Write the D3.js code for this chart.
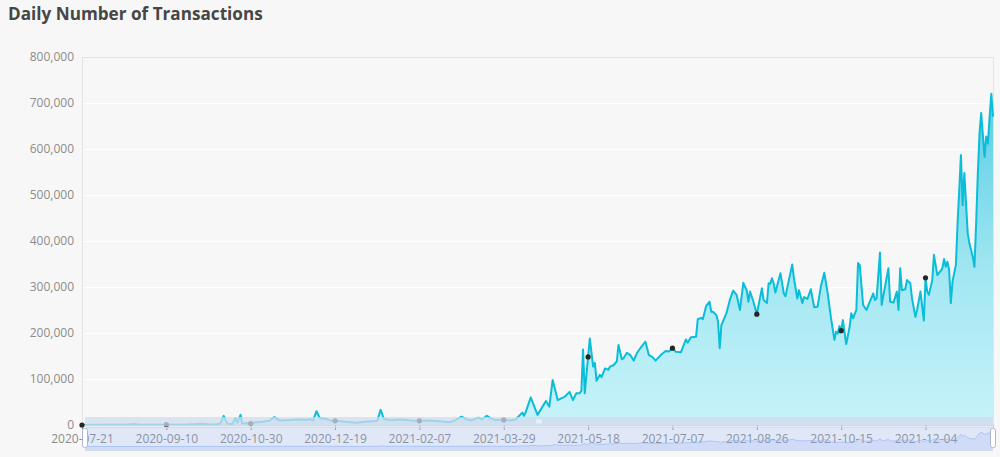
<!DOCTYPE html>
<html><head><meta charset="utf-8">
<script src="https://cdn.jsdelivr.net/npm/d3@7"></script>
<style>
html,body{margin:0;padding:0;background:#f7f7f7;}
svg{display:block;font-family:"Open Sans",sans-serif;}
</style>
</head><body>
<svg id="chart" width="1000" height="457"></svg>
<script>
const chartTitle = "Daily Number of Transactions";
const totalDays = 540; // day index of last point (2020-07-21 = day 0)
const tickDays = [0, 50, 100, 150, 200, 250, 300, 350, 400, 450, 500];
const tickLabels = ["2020-07-21", "2020-09-10", "2020-10-30", "2020-12-19", "2021-02-07", "2021-03-29",
  "2021-05-18", "2021-07-07", "2021-08-26", "2021-10-15", "2021-12-04"];
const yTicks = [0, 100000, 200000, 300000, 400000, 500000, 600000, 700000, 800000];

const days = [0,10,25,31,34,45,50,60,72,76,80,82,84,86,89,91,92,94,95,97,100,103,107,111,114,117,123,129,133,135,137,139,141,145,147,150,156,163,168,172,175,177,179,183,189,195,200,205,212,218,221,225,228,231,235,237,240,242,245,250,254,257,261,262,263,266,270,275,277,279,282,284,286,289,291,293,295,296,297,298,300,301,303,304,305,307,308,310,312,313,315,317,318,320,321,323,325,327,329,332,334,336,338,340,343,346,348,350,352,355,358,359,361,364,365,367,368,370,372,373,374,376,377,378,379,382,384,386,388,390,392,394,395,396,398,400,403,404,406,407,408,409,410,411,414,416,417,419,421,422,424,425,427,428,430,432,434,436,438,440,442,444,446,447,448,449,450,451,453,455,456,457,459,460,461,463,465,467,469,470,471,473,474,476,478,479,481,483,484,485,486,488,489,491,492,494,495,497,499,500,501,502,504,505,507,509,510,511,512,513,514,515,516,518,519,521,522,523,525,526,528,529,530,531,532,533,535,536,537,538,539,540];

const values = [0,300,500,2000,500,600,800,700,2500,1000,1500,3000,20000,3000,1500,15000,5000,22000,3000,4000,3000,6000,7000,9000,17000,10000,11000,12000,11000,13000,10000,30000,15000,13000,10000,9000,7000,5000,7000,8000,9000,33000,13000,11000,12000,10000,9000,10000,8000,6000,10000,18000,12000,10000,16000,12000,20000,15000,11000,11000,10000,12000,27000,20000,28000,60000,22000,52000,40000,98000,54000,58000,61000,72000,54000,69000,69000,74000,164000,69000,148000,188000,127000,135000,96000,109000,104000,123000,120000,127000,130000,138000,174000,143000,145000,157000,152000,140000,157000,172000,181000,152000,148000,140000,152000,161000,160000,167000,159000,158000,186000,179000,191000,192000,230000,233000,230000,259000,268000,246000,246000,239000,225000,167000,217000,243000,272000,292000,283000,250000,309000,293000,268000,290000,268000,241000,297000,272000,265000,308000,307000,319000,308000,288000,330000,286000,280000,315000,349000,319000,275000,293000,265000,278000,274000,295000,256000,257000,302000,331000,286000,232000,185000,203000,199000,215000,205000,228000,176000,213000,243000,232000,250000,352000,348000,261000,250000,268000,286000,272000,275000,375000,261000,301000,341000,268000,266000,290000,250000,341000,293000,295000,315000,308000,275000,235000,250000,290000,227000,320000,290000,283000,315000,370000,326000,335000,341000,361000,344000,355000,337000,265000,312000,348000,438000,587000,478000,548000,417000,395000,366000,344000,438000,547000,634000,678000,583000,627000,612000,670000,720000,670000];

const data = days.map((d, i) => ({day: d, value: values[i]}));

const svg = d3.select("#chart");
const W = 1000, H = 457;
const plot = {left: 82, right: 993, top: 57, bottom: 425};

svg.append("rect").attr("width", W).attr("height", H).attr("fill", "#f7f7f7");

const x = d3.scaleLinear().domain([0, totalDays]).range([plot.left, plot.right]);
const y = d3.scaleLinear().domain([0, 800000]).range([plot.bottom, plot.top]);

// Title
const t = svg.append("text").attr("x", 8).attr("y", 20)
  .attr("font-size", 17).attr("font-weight", 700).attr("fill", "#464646").text(chartTitle);
const tw = t.node().getComputedTextLength();
if (tw > 0) t.attr("font-size", 17 * 255 / tw);

// Grid border
svg.append("rect").attr("x", plot.left + 0.5).attr("y", plot.top + 0.5)
  .attr("width", plot.right - plot.left).attr("height", plot.bottom - plot.top)
  .attr("fill", "none").attr("stroke", "#e4e4e4");

// horizontal split lines
const grid = svg.append("g").attr("transform", `translate(${plot.left},0)`)
  .call(d3.axisLeft(y).tickValues(yTicks.filter(v => v > 0 && v < 800000)).tickSize(-(plot.right - plot.left - 1)).tickFormat(""));
grid.select(".domain").remove();
grid.selectAll("line").attr("stroke", "#ffffff").attr("stroke-width", 1.2).attr("transform", "translate(1,0)");

// Y axis labels
const ya = svg.append("g").attr("transform", `translate(${plot.left},0)`)
  .call(d3.axisLeft(y).tickValues(yTicks).tickFormat(d3.format(",")).tickSize(0).tickPadding(8));
ya.select(".domain").remove();
ya.selectAll("text").attr("fill", "#8c8c8c").attr("font-size", 12).attr("font-family", "Open Sans, sans-serif");

// Area gradient
const maxV = d3.max(values);
const defs = svg.append("defs");
const grad = defs.append("linearGradient").attr("id", "areaGrad")
  .attr("gradientUnits", "userSpaceOnUse").attr("x1", 0).attr("x2", 0)
  .attr("y1", y(maxV)).attr("y2", y(0));
grad.append("stop").attr("offset", 0).attr("stop-color", "#58cde3");
grad.append("stop").attr("offset", 0.55).attr("stop-color", "#a3e7f2");
grad.append("stop").attr("offset", 1).attr("stop-color", "#c8f3fa");

const area = d3.area().x(d => x(d.day)).y0(y(0)).y1(d => y(d.value));
const line = d3.line().x(d => x(d.day)).y(d => y(d.value));

svg.append("path").datum(data).attr("d", area).attr("fill", "url(#areaGrad)");
svg.append("path").datum(data).attr("d", line).attr("fill", "none")
  .attr("stroke", "#0abdd8").attr("stroke-width", 2).attr("stroke-linejoin", "round");

// X axis
const xa = svg.append("g").attr("transform", `translate(0,${plot.bottom})`)
  .call(d3.axisBottom(x).tickValues(tickDays).tickFormat((d, i) => tickLabels[i]).tickSize(5).tickPadding(4));
xa.select(".domain").attr("stroke", "#c9ced8");
xa.selectAll(".tick line").attr("stroke", "#8e939c");
xa.selectAll("text").attr("fill", "#8c8c8c").attr("font-size", 12).attr("font-family", "Open Sans, sans-serif");

// Symbols at label interval
const markers = data.filter(d => tickDays.includes(d.day));
svg.append("g").selectAll("circle").data(markers).join("circle")
  .attr("cx", d => x(d.day)).attr("cy", d => y(d.value)).attr("r", 2.6).attr("fill", "#262626");

// DataZoom slider
const sl = {x0: 85, x1: 993, top: 427, h: 24};
const sg = svg.append("g");
// move handle bar
sg.append("rect").attr("x", sl.x0).attr("y", 417).attr("width", sl.x1 - sl.x0).attr("height", 9.5)
  .attr("fill", "#d2dbee").attr("opacity", 0.75);
// filler
sg.append("rect").attr("x", sl.x0).attr("y", sl.top).attr("width", sl.x1 - sl.x0).attr("height", sl.h)
  .attr("fill", "rgba(135,175,255,0.2)");
// data shadow
const ext = d3.extent(values);
const off = (ext[1] - ext[0]) * 0.3;
const sx = d3.scaleLinear().domain([0, totalDays]).range([sl.x0, sl.x1]);
const sy = d3.scaleLinear().domain([ext[0] - off, ext[1] + off]).range([sl.top + sl.h, sl.top]);
const sArea = d3.area().x(d => sx(d.day)).y0(sl.top + sl.h).y1(d => sy(d.value));
const sLine = d3.line().x(d => sx(d.day)).y(d => sy(d.value));
sg.append("path").datum(data).attr("d", sArea).attr("fill", "#8fb0f7").attr("opacity", 0.2);
sg.append("path").datum(data).attr("d", sLine).attr("fill", "none").attr("stroke", "#8fb0f7").attr("stroke-width", 0.6);
// border
sg.append("rect").attr("x", sl.x0 + 0.5).attr("y", sl.top + 0.5).attr("width", sl.x1 - sl.x0 - 1).attr("height", sl.h - 1)
  .attr("fill", "none").attr("stroke", "#d2dbee").attr("rx", 2);
// handles
[sl.x0, sl.x1].forEach(cx => {
  sg.append("rect").attr("x", cx - 2.5).attr("y", 428.5).attr("width", 5).attr("height", 19)
    .attr("rx", 2).attr("fill", "#ffffff").attr("stroke", "#acb8d1").attr("stroke-width", 1);
});
// move handle icon
const mcx = (sl.x0 + sl.x1) / 2;
[-2, 0, 2].forEach(dx => {
  sg.append("rect").attr("x", mcx + dx - 0.5).attr("y", 419.5).attr("width", 1).attr("height", 4).attr("fill", "#ffffff");
});
</script>
</body></html>
